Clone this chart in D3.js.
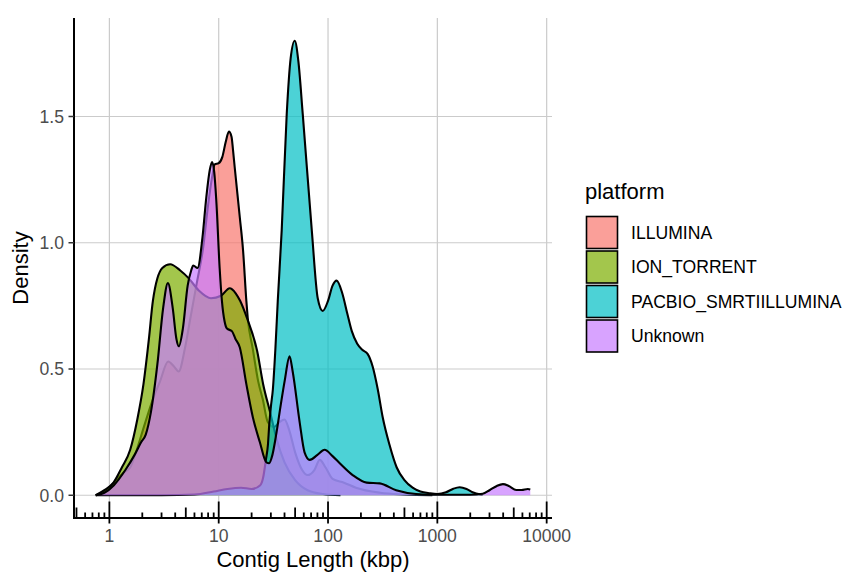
<!DOCTYPE html>
<html>
<head>
<meta charset="utf-8">
<script src="https://d3js.org/d3.v7.min.js"></script>
<style>
  body { margin: 0; background: #ffffff; }
  text { font-family: "Liberation Sans", Arial, Helvetica, sans-serif; }
</style>
</head>
<body>
<svg id="chart" width="846" height="572"></svg>
<script>
// platforms, in drawing order
var platforms = ["ILLUMINA", "ION_TORRENT", "PACBIO_SMRTIILLUMINA", "Unknown"];
var colors = ["#F8766D", "#7CAE00", "#00BFC4", "#C77CFF"];

// density curves: [contig length (kbp), density]
var illumina = [
  [0.75, 0.0], [0.9, 0.015], [1.1, 0.05], [1.35, 0.09], [1.55, 0.11], [1.75, 0.17],
  [2.1, 0.28], [2.5, 0.38], [2.9, 0.45], [3.45, 0.53], [3.9, 0.51], [4.3, 0.49],
  [4.9, 0.58], [5.5, 0.70], [6.3, 0.84], [7.2, 0.98], [8.0, 1.15], [8.7, 1.26],
  [9.2, 1.31], [10.0, 1.315], [10.8, 1.34], [11.6, 1.40], [12.4, 1.44], [13.1, 1.42],
  [13.5, 1.37], [14.0, 1.30], [15.6, 1.10], [16.7, 0.97], [17.9, 0.77], [18.45, 0.70],
  [20.5, 0.58], [23, 0.45], [25.3, 0.38], [28.1, 0.29], [32, 0.27], [36, 0.29],
  [40, 0.30], [44, 0.26], [50, 0.17], [58, 0.10], [65, 0.08], [75, 0.10],
  [84, 0.14], [95, 0.11], [110, 0.065], [140, 0.05], [180, 0.03], [300, 0.01],
  [500, 0.003], [900, 0.0]
];
var ionTorrent = [
  [0.75, 0.0], [0.9, 0.02], [1.09, 0.05], [1.3, 0.11], [1.55, 0.18], [1.8, 0.30],
  [2.05, 0.44], [2.3, 0.62], [2.5, 0.77], [3.05, 0.90], [3.6, 0.915], [4.45, 0.89],
  [5.3, 0.86], [6.6, 0.81], [8.5, 0.78], [10.5, 0.79], [12.6, 0.82], [14.3, 0.80],
  [15.7, 0.77], [18.2, 0.70], [22.5, 0.57], [25.5, 0.44], [29.5, 0.33], [34, 0.22],
  [40, 0.13], [50, 0.06], [65, 0.02], [90, 0.005], [130, 0.0]
];
var pacbio = [
  [0.75, 0.0], [3, 0.0], [6, 0.003], [9, 0.015], [12, 0.025], [16, 0.03], [20, 0.025],
  [24, 0.04], [25.5, 0.07], [27, 0.14], [28.2, 0.20], [29, 0.28], [30, 0.35],
  [31.3, 0.42], [33, 0.58], [34.7, 0.77], [37.7, 1.05], [41.9, 1.51], [45.5, 1.73],
  [49.6, 1.80], [53.5, 1.72], [58.7, 1.51], [71, 1.05], [80.5, 0.78], [89.4, 0.73],
  [100, 0.77], [110, 0.83], [120, 0.85], [135, 0.80], [150, 0.72], [165, 0.65],
  [185, 0.60], [207, 0.575], [230, 0.56], [256, 0.51], [285, 0.42], [316, 0.31],
  [365, 0.20], [425, 0.11], [500, 0.06], [594, 0.03], [700, 0.015], [850, 0.008],
  [1000, 0.005], [1200, 0.012], [1400, 0.026], [1600, 0.032], [1850, 0.025],
  [2100, 0.012], [2450, 0.004], [2600, 0.003]
];
var unknown = [
  [0.75, 0.0], [0.9, 0.01], [1.1, 0.04], [1.4, 0.10], [1.7, 0.16], [1.95, 0.21],
  [2.15, 0.24], [2.4, 0.33], [2.75, 0.52], [3.1, 0.74], [3.43, 0.84], [3.8, 0.74],
  [4.1, 0.62], [4.32, 0.59], [4.7, 0.66], [5.2, 0.83], [5.6, 0.89], [5.85, 0.91],
  [6.4, 0.90], [7.1, 1.02], [7.7, 1.18], [8.3, 1.29], [8.7, 1.32], [9.1, 1.28],
  [9.5, 1.17], [10.2, 0.90], [10.7, 0.77], [11.3, 0.69], [11.9, 0.66], [13.2, 0.65],
  [14.2, 0.62], [15.6, 0.585], [17.9, 0.44], [20.5, 0.31], [23.8, 0.21], [27.3, 0.13],
  [28.9, 0.127], [31, 0.16], [33.7, 0.245], [37, 0.36], [40.2, 0.455], [44.5, 0.55],
  [47.5, 0.49], [55, 0.29], [61, 0.17], [68, 0.14], [80, 0.16], [93, 0.18],
  [110, 0.155], [128, 0.127], [168, 0.08], [226, 0.05], [297, 0.047], [420, 0.02],
  [640, 0.005], [900, 0.002], [1300, 0.002], [2000, 0.002], [2600, 0.006],
  [3000, 0.02], [3500, 0.037], [3980, 0.044], [4500, 0.037], [5270, 0.021],
  [5900, 0.021], [6730, 0.025], [7080, 0.023]
];
var series = [illumina, ionTorrent, pacbio, unknown];

var xTicks = [1, 10, 100, 1000, 10000];
var xTickLabels = ["1", "10", "100", "1000", "10000"];
var yTicks = [0, 0.5, 1.0, 1.5];
var yTickLabels = ["0.0", "0.5", "1.0", "1.5"];

var svg = d3.select("#chart");
var padL = 74, padR = 552, padT = 18, padB = 518;

// ggplot-like 5% expansion of the data range (log for x)
var allPts = d3.merge(series);
var lx = d3.extent(allPts, function(d) { return Math.log10(d[0]); });
var ex = (lx[1] - lx[0]) * 0.05;
var ymax = d3.max(allPts, function(d) { return d[1]; });

var x = d3.scaleLog()
  .domain([Math.pow(10, lx[0] - ex), Math.pow(10, lx[1] + ex)])
  .range([padL, padR]);
var y = d3.scaleLinear()
  .domain([-ymax * 0.05, ymax * 1.05])
  .range([padB, padT]);

// grid
var grid = svg.append("g").attr("stroke", "#cbcbcb").attr("stroke-width", 1.2);
grid.selectAll("line.gy").data(yTicks).enter().append("line")
  .attr("x1", padL).attr("x2", padR)
  .attr("y1", function(d) { return y(d); })
  .attr("y2", function(d) { return y(d); });
grid.selectAll("line.gx").data(xTicks).enter().append("line")
  .attr("x1", function(d) { return x(d); })
  .attr("x2", function(d) { return x(d); })
  .attr("y1", padT).attr("y2", padB);

// densities: each fill then its upper outline
var area = d3.area()
  .x(function(d) { return x(d[0]); })
  .y0(y(0))
  .y1(function(d) { return y(d[1]); })
  .curve(d3.curveMonotoneX);
var line = d3.line()
  .x(function(d) { return x(d[0]); })
  .y(function(d) { return y(d[1]); })
  .curve(d3.curveMonotoneX);

series.forEach(function(s, i) {
  svg.append("path").datum(s)
    .attr("d", area)
    .attr("fill", colors[i])
    .attr("fill-opacity", 0.7);
  svg.append("path").datum(s)
    .attr("d", line)
    .attr("fill", "none")
    .attr("stroke", "#000")
    .attr("stroke-width", 2.1)
    .attr("stroke-linejoin", "round");
});

// axis lines
svg.append("line").attr("x1", padL).attr("x2", padL).attr("y1", padT).attr("y2", padB + 1)
  .attr("stroke", "#000").attr("stroke-width", 2);
svg.append("line").attr("x1", padL - 1).attr("x2", padR).attr("y1", padB).attr("y2", padB)
  .attr("stroke", "#000").attr("stroke-width", 2);

// y ticks + labels
svg.selectAll("line.yt").data(yTicks).enter().append("line")
  .attr("x1", padL - 5.5).attr("x2", padL)
  .attr("y1", function(d) { return y(d); })
  .attr("y2", function(d) { return y(d); })
  .attr("stroke", "#333").attr("stroke-width", 1.5);
svg.selectAll("text.yl").data(yTicks).enter().append("text")
  .attr("x", padL - 10)
  .attr("y", function(d) { return y(d); })
  .attr("dy", "0.36em")
  .attr("text-anchor", "end")
  .attr("font-size", 17.6)
  .attr("fill", "#4d4d4d")
  .text(function(d, i) { return yTickLabels[i]; });

// x ticks (below the line) + labels
svg.selectAll("line.xt").data(xTicks).enter().append("line")
  .attr("x1", function(d) { return x(d); })
  .attr("x2", function(d) { return x(d); })
  .attr("y1", padB).attr("y2", padB + 5.5)
  .attr("stroke", "#000").attr("stroke-width", 1.8);
svg.selectAll("text.xl").data(xTicks).enter().append("text")
  .attr("x", function(d) { return x(d); })
  .attr("y", 542)
  .attr("text-anchor", "middle")
  .attr("font-size", 17.6)
  .attr("fill", "#4d4d4d")
  .text(function(d, i) { return xTickLabels[i]; });

// log ticks along the bottom of the panel
var logTicks = [];
for (var e = -1; e <= 4; e++) {
  for (var m = 1; m <= 9; m++) {
    var v = m * Math.pow(10, e);
    if (v >= x.domain()[0] && v <= x.domain()[1]) logTicks.push({ v: v, m: m });
  }
}
svg.selectAll("line.lt").data(logTicks).enter().append("line")
  .attr("x1", function(d) { return x(d.v); })
  .attr("x2", function(d) { return x(d.v); })
  .attr("y1", padB)
  .attr("y2", function(d) { return padB - (d.m === 1 ? 16.5 : d.m === 5 ? 10.5 : 5.5); })
  .attr("stroke", "#000").attr("stroke-width", 1.8);

// axis titles
svg.append("text")
  .attr("x", (padL + padR) / 2).attr("y", 566.5)
  .attr("text-anchor", "middle")
  .attr("font-size", 22)
  .text("Contig Length (kbp)");
svg.append("text")
  .attr("transform", "translate(28," + ((padT + padB) / 2) + ") rotate(-90)")
  .attr("text-anchor", "middle")
  .attr("font-size", 22)
  .text("Density");

// legend
var legend = svg.append("g").attr("transform", "translate(585,0)");
legend.append("text").attr("x", 0).attr("y", 199).attr("font-size", 22).text("platform");
var keys = legend.selectAll("g.key").data(platforms).enter().append("g")
  .attr("transform", function(d, i) { return "translate(0," + (216 + i * 34.5) + ")"; });
keys.append("rect")
  .attr("x", 1.5).attr("y", 0.5).attr("width", 31).attr("height", 32)
  .attr("fill", function(d, i) { return colors[i]; })
  .attr("fill-opacity", 0.7)
  .attr("stroke", "#000").attr("stroke-width", 1.6);
keys.append("text")
  .attr("x", 46).attr("y", 16.5).attr("dy", "0.36em")
  .attr("font-size", 17.6)
  .text(function(d) { return d; });
</script>
</body>
</html>
